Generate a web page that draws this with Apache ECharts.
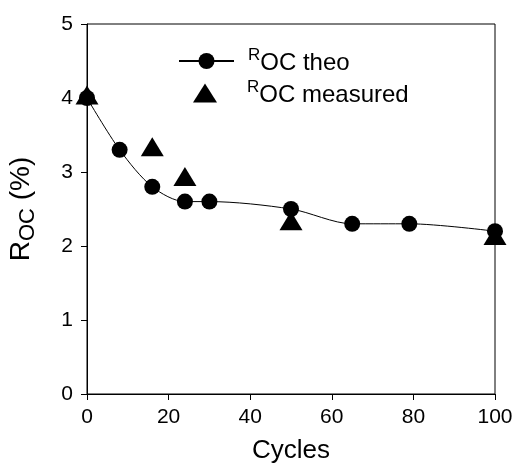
<!DOCTYPE html>
<html>
<head>
<meta charset="utf-8">
<script src="https://cdn.jsdelivr.net/npm/echarts@6/dist/echarts.min.js"></script>
<style>html,body{margin:0;padding:0;background:#fff}#c{width:515px;height:466px}</style>
</head>
<body>
<div id="c"></div>
<script>
var theoCycles = [0, 8, 16, 24, 30, 50, 65, 79, 100];
var theoValues = [4.0, 3.3, 2.8, 2.6, 2.6, 2.5, 2.3, 2.3, 2.2];
var measCycles = [0, 16, 24, 50, 100];
var measValues = [4.0, 3.3, 2.9, 2.3, 2.1];
var xTicks = [0, 20, 40, 60, 80, 100];
var yTicks = [0, 1, 2, 3, 4, 5];

function pairs(xs, ys) { return xs.map(function (x, i) { return [x, ys[i]]; }); }

var FONT = 'Liberation Sans';
var chart = echarts.init(document.getElementById('c'), null, {renderer: 'canvas'});
var legendRich = {
  r: {fontSize: 17, fontFamily: FONT, color: '#000', verticalAlign: 'top', lineHeight: 28},
  t: {fontSize: 24, fontFamily: FONT, color: '#000', verticalAlign: 'bottom', lineHeight: 28}
};
chart.setOption({
  animation: false,
  backgroundColor: '#fff',
  grid: {left: 87, right: 20, top: 24, bottom: 72, show: true, borderColor: '#000', borderWidth: 1,
    containLabel: false, outerBoundsMode: 'none'},
  legend: [{
    data: ['theo'], orient: 'vertical', left: 178, top: 47, padding: 0,
    itemWidth: 55, itemHeight: 20,
    formatter: function () { return '{r|R}{t|OC theo}'; },
    textStyle: {padding: [0, 0, 0, 9], rich: legendRich}
  }, {
    data: ['measured'], orient: 'vertical', left: 193, top: 79, padding: 0,
    itemWidth: 24, itemHeight: 19,
    formatter: function () { return '{r|R}{t|OC measured}'; },
    textStyle: {padding: [0, 0, 0, 25], rich: legendRich}
  }],
  xAxis: {
    type: 'value', min: 0, max: 100, interval: 20,
    name: 'Cycles', nameLocation: 'middle', nameGap: 44,
    nameTextStyle: {fontFamily: FONT, fontSize: 26, color: '#000', verticalAlign: 'top'},
    axisLine: {lineStyle: {color: '#000', width: 1}},
    axisTick: {inside: false, length: 6, lineStyle: {color: '#000'}},
    axisLabel: {fontFamily: FONT, fontSize: 21, color: '#000', margin: 13,
      formatter: function (v) { return xTicks.indexOf(v) >= 0 ? String(v) : ''; }},
    splitLine: {show: false}
  },
  yAxis: {
    type: 'value', min: 0, max: 5, interval: 1,
    name: '{r|R}{s|OC}{r| (%)}', nameLocation: 'middle', nameGap: 48, nameRotate: 90,
    nameTextStyle: {rich: {
      r: {fontFamily: FONT, fontSize: 28, color: '#000', verticalAlign: 'top', lineHeight: 32},
      s: {fontFamily: FONT, fontSize: 22, color: '#000', verticalAlign: 'bottom', lineHeight: 32}
    }},
    axisLine: {lineStyle: {color: '#000', width: 1}},
    axisTick: {inside: false, length: 6, lineStyle: {color: '#000'}},
    axisLabel: {fontFamily: FONT, fontSize: 21, color: '#000', margin: 14,
      formatter: function (v) { return yTicks.indexOf(v) >= 0 ? String(v) : ''; }},
    splitLine: {show: false}
  },
  series: [{
    name: 'theo', type: 'line', data: pairs(theoCycles, theoValues),
    smooth: 0.3, symbol: 'circle', symbolSize: 16,
    itemStyle: {color: '#000', opacity: 1}, lineStyle: {color: '#000', width: 1}, z: 3
  }, {
    name: 'measured', type: 'scatter', data: pairs(measCycles, measValues),
    symbol: 'triangle', symbolSize: [23, 19], symbolOffset: [0, -3],
    itemStyle: {color: '#000', opacity: 1}, z: 5
  }]
});
</script>
</body>
</html>
